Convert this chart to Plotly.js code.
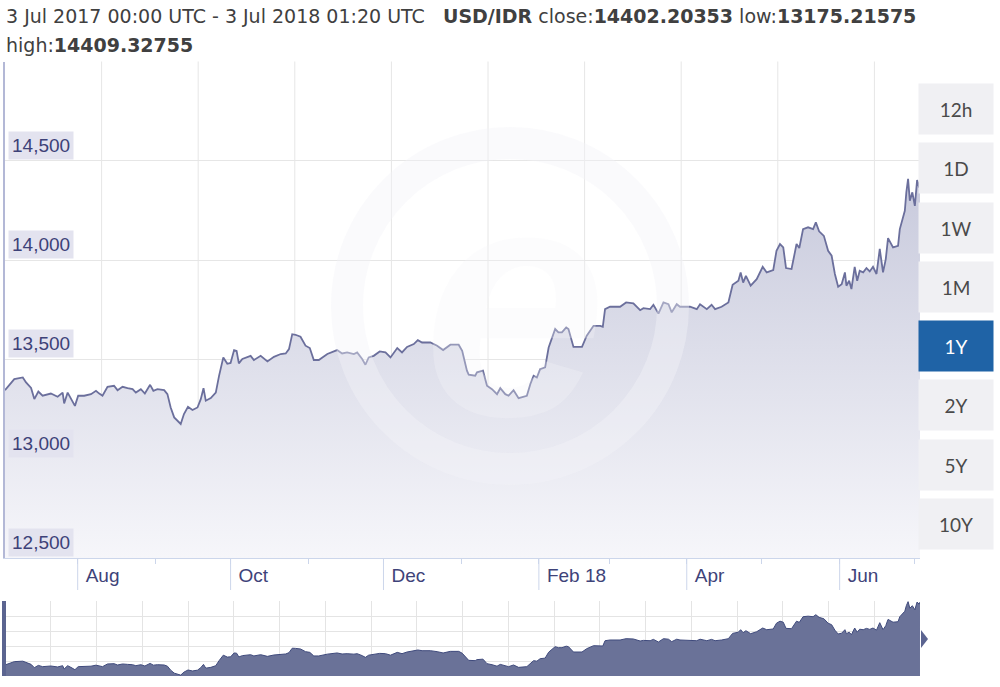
<!DOCTYPE html>
<html><head><meta charset="utf-8">
<script src="https://cdn.plot.ly/plotly-3.0.1.min.js"></script>
<style>html,body{margin:0;padding:0;background:#fff;} #chart{width:1000px;height:687px;}</style>
</head><body><div id="chart"></div>
<script>
// ---------- data ----------
const startDate = '2017-07-03 00:00';
const endDate = '2018-07-03 01:20';
const dayOffsets = [0, 3.7, 7.1, 8.4, 10.4, 11.7, 13.3, 15.0, 18.3, 21.0, 23.0, 23.6, 25.0, 26.3, 27.9, 29.2, 31.6, 34.3, 36.3, 37.6,
  38.9, 40.9, 43.5, 44.9, 46.9, 48.9, 50.9, 52.2, 54.2, 55.8, 57.9, 59.2, 60.8, 63.5, 64.8, 66.1, 67.5, 70.1, 71.4, 73.0,
  74.8, 76.8, 78.1, 79.2, 80.1, 82.1, 84.1, 85.4, 87.1, 88.7, 90.0, 91.4, 92.4, 93.3, 94.7, 98.0, 99.3, 102.0, 104.7, 107.3,
  110.0, 112.0, 113.3, 114.6, 115.9, 117.9, 119.9, 121.6, 123.2, 125.2, 128.6, 132.5, 134.5, 136.5, 139.2, 140.5, 142.5, 143.8, 145.1, 147.1,
  149.5, 151.8, 153.8, 156.5, 158.4, 160.4, 163.1, 164.7, 166.4, 169.7, 172.4, 174.8, 177.7, 181.0, 182.4, 184.3, 185.0, 187.6, 188.3, 190.7,
  192.3, 194.3, 196.3, 197.6, 199.6, 200.9, 202.9, 204.9, 208.2, 209.6, 210.9, 212.2, 213.5, 215.5, 216.9, 219.5, 220.8, 222.2, 223.9, 224.8,
  226.8, 230.2, 232.1, 234.8, 237.5, 238.5, 239.4, 241.4, 245.4, 247.8, 250.7, 253.4, 254.7, 257.4, 258.7, 260.7, 262.7, 264.7, 266.0, 268.0,
  269.3, 273.3, 276.0, 277.3, 280.0, 281.9, 283.3, 285.9, 288.6, 290.3, 292.6, 293.5, 294.5, 295.6, 297.5, 299.9, 302.3, 303.9, 306.5, 307.8,
  309.2, 310.5, 311.6, 313.8, 315.8, 316.9, 318.4, 320.4, 322.4, 323.5, 324.8, 326.7, 328.4, 329.8, 331.1, 332.4, 333.8, 335.1, 335.7, 336.8,
  337.7, 339.0, 340.0, 341.0, 342.4, 343.7, 345.0, 346.3, 347.7, 349.0, 350.3, 351.4, 352.3, 354.3, 356.3, 357.0, 358.1, 359.0, 359.6, 360.3,
  361.0, 362.0, 363.0, 363.9, 364.7, 365.05];
const rates = [13345, 13401, 13409, 13384, 13356, 13300, 13338, 13317, 13328, 13312, 13333, 13278, 13333, 13305, 13266, 13317, 13317, 13325, 13342, 13328,
  13317, 13362, 13367, 13345, 13362, 13355, 13350, 13333, 13350, 13328, 13372, 13342, 13350, 13345, 13325, 13258, 13208, 13175, 13225, 13261,
  13245, 13258, 13300, 13355, 13292, 13305, 13333, 13417, 13510, 13478, 13482, 13547, 13543, 13480, 13502, 13518, 13497, 13518, 13490, 13513,
  13527, 13530, 13552, 13627, 13624, 13614, 13569, 13557, 13497, 13497, 13527, 13547, 13530, 13535, 13527, 13535, 13502, 13473, 13510, 13518,
  13540, 13535, 13510, 13557, 13535, 13563, 13577, 13597, 13585, 13585, 13569, 13547, 13574, 13574, 13543, 13443, 13423, 13418, 13435, 13443,
  13367, 13350, 13325, 13355, 13325, 13317, 13345, 13305, 13317, 13376, 13418, 13409, 13451, 13460, 13560, 13653, 13636, 13636, 13661, 13653,
  13563, 13563, 13619, 13669, 13669, 13664, 13753, 13765, 13765, 13787, 13782, 13748, 13758, 13753, 13775, 13731, 13787, 13778, 13737, 13778,
  13765, 13765, 13753, 13778, 13753, 13775, 13753, 13765, 13787, 13876, 13896, 13938, 13887, 13921, 13871, 13904, 13966, 13938, 13950, 14047,
  14081, 14064, 13960, 13955, 14081, 14061, 14156, 14165, 14156, 14190, 14145, 14122, 14047, 14022, 13930, 13866, 13879, 13938, 13871, 13896,
  13854, 13966, 13896, 13946, 13938, 13960, 13943, 13966, 13930, 14056, 13938, 14005, 14111, 14064, 14072, 14156, 14215, 14248, 14341, 14409,
  14299, 14341, 14273, 14403, 14366, 14402];
const yTickValues = [12500, 13000, 13500, 14000, 14500];
const yTickLabels = ['12,500', '13,000', '13,500', '14,000', '14,500'];
const monthTickValues = ['2017-08-01', '2017-09-01', '2017-10-01', '2017-11-01', '2017-12-01', '2018-01-01',
  '2018-02-01', '2018-03-01', '2018-04-01', '2018-05-01', '2018-06-01', '2018-07-01'];
const monthTickLabels = ['Aug', '', 'Oct', '', 'Dec', '', 'Feb 18', '', 'Apr', '', 'Jun', ''];
const rangeButtons = ['12h', '1D', '1W', '1M', '1Y', '2Y', '5Y', '10Y'];
const activeButton = '1Y';
const headerRange = '3 Jul 2017 00:00 UTC - 3 Jul 2018 01:20 UTC';
const pairName = 'USD/IDR';
const closeValue = '14402.20353';
const lowValue = '13175.21575';
const highValue = '14409.32755';

// ---------- helpers ----------
const W = 1000, H = 687;
const px = x => x / W;
const py = y => 1 - y / H;
const pad = n => String(n).padStart(2, '0');
const baseMs = Date.UTC(2017, 6, 3);
function toDate(d) {
  const t = new Date(baseMs + d * 86400000);
  return t.getUTCFullYear() + '-' + pad(t.getUTCMonth() + 1) + '-' + pad(t.getUTCDate()) + ' ' +
    pad(t.getUTCHours()) + ':' + pad(t.getUTCMinutes());
}
const dates = dayOffsets.map(toDate);
const spanMs = Date.UTC(2018, 6, 3, 1, 20) - baseMs;

const lineColor = '#6b6f9c';
const font = 'Liberation Sans, Arial, sans-serif';
const uiFont = 'DejaVu Sans, sans-serif';
const btnFont = 'Lato, Open Sans, sans-serif';

const main = {
  x: dates, y: rates, type: 'scatter', mode: 'lines',
  line: {color: lineColor, width: 1.8},
  fill: 'tozeroy',
  fillgradient: {type: 'vertical', start: 12500, stop: 14500,
    colorscale: [[0, 'rgb(246,246,250)'], [1, 'rgb(198,200,219)']]},
  hoverinfo: 'skip', xaxis: 'x', yaxis: 'y'
};
const nav = {
  x: dates, y: rates, type: 'scatter', mode: 'lines',
  line: {color: '#3f4a7c', width: 1},
  fill: 'tozeroy', fillcolor: '#6a7298',
  hoverinfo: 'skip', xaxis: 'x2', yaxis: 'y2'
};

const shapes = [];
// main vertical background grid (evenly spaced, independent of month ticks)
for (let i = 1; i <= 9; i++) {
  const xp = 5 + i * 96.6;
  shapes.push({type: 'line', xref: 'paper', yref: 'paper', x0: px(xp), x1: px(xp), y0: py(558), y1: py(61.5),
    line: {color: '#e6e6e6', width: 1}, layer: 'below'});
}
// long separator lines for labelled months
monthTickValues.forEach((v, i) => {
  if (monthTickLabels[i]) shapes.push({type: 'line', xref: 'x', yref: 'paper', x0: v, x1: v, y0: py(558), y1: py(590),
    line: {color: '#ccd6eb', width: 1}});
});
// watermark ring
shapes.push({type: 'circle', xref: 'paper', yref: 'paper', x0: px(510 - 163), x1: px(510 + 163), y0: py(306 + 163), y1: py(306 - 163),
  line: {color: 'rgba(244,244,248,0.42)', width: 32}, layer: 'above'});
// navigator handles
shapes.push({type: 'rect', xref: 'paper', yref: 'paper', x0: px(2), x1: px(6), y0: py(676), y1: py(601),
  fillcolor: '#5b6490', line: {width: 0}});
shapes.push({type: 'path', xref: 'paper', yref: 'paper',
  path: `M ${px(921)} ${py(630)} L ${px(928)} ${py(639)} L ${px(921)} ${py(648)} Z`,
  fillcolor: '#5b6490', line: {width: 0}});

const annotations = [];
// watermark letter
annotations.push({xref: 'paper', yref: 'paper', x: px(515), y: py(300), xanchor: 'center', yanchor: 'middle', showarrow: false,
  text: '<i><b>e</b></i>', font: {family: 'Liberation Sans, Arial, sans-serif', size: 330, color: 'rgba(244,244,248,0.3)'}});
// y tick labels with shaded boxes
yTickValues.forEach((v, i) => annotations.push({
  xref: 'paper', yref: 'y', x: px(8), y: v, xanchor: 'left', yanchor: 'bottom', yshift: 1,
  text: yTickLabels[i], showarrow: false, bgcolor: '#e3e3ef', borderpad: 3,
  font: {family: font, size: 19, color: '#3d4178'}
}));
// header
annotations.push({xref: 'paper', yref: 'paper', x: px(4), y: py(16), xanchor: 'left', yanchor: 'middle', showarrow: false,
  text: `${headerRange}&nbsp;&nbsp;&nbsp;<b>${pairName}</b> close:<b>${closeValue}</b> low:<b>${lowValue}</b>`,
  font: {family: uiFont, size: 19, color: '#404040'}});
annotations.push({xref: 'paper', yref: 'paper', x: px(4), y: py(45), xanchor: 'left', yanchor: 'middle', showarrow: false,
  text: `high:<b>${highValue}</b>`, font: {family: uiFont, size: 19, color: '#404040'}});
// range buttons
rangeButtons.forEach((b, i) => {
  const yc = 109 + i * 59.3;
  const active = b === activeButton;
  annotations.push({xref: 'paper', yref: 'paper', x: px(956), y: py(yc), xanchor: 'center', yanchor: 'middle',
    showarrow: false, text: b, width: 74, height: 50, borderpad: 0,
    bgcolor: active ? '#1f63a6' : '#f0f0f3',
    font: {family: btnFont, size: 19, color: active ? '#ffffff' : '#4a4a4a'}});
});

const layout = {
  width: W, height: H, margin: {l: 0, r: 0, t: 0, b: 0},
  paper_bgcolor: '#fff', plot_bgcolor: '#fff', showlegend: false,
  xaxis: {
    type: 'date', domain: [px(5), px(920)], range: [startDate, endDate], anchor: 'y',
    tickmode: 'array', tickvals: monthTickValues, ticktext: monthTickLabels,
    ticks: 'outside', ticklen: 5, tickcolor: '#ccd6eb', tickwidth: 1,
    ticklabelposition: 'outside right', ticklabelshift: 7, ticklabelstandoff: 0,
    tickfont: {family: font, size: 19, color: '#3e4379'},
    showgrid: false, showline: true, linecolor: '#ccd6eb', linewidth: 1, zeroline: false, fixedrange: true
  },
  yaxis: {
    domain: [py(558), py(61.5)], range: [12500, 15000], anchor: 'x',
    tick0: 12500, dtick: 500, showgrid: true, gridcolor: '#e6e6e6', gridwidth: 1,
    showticklabels: false, ticks: '', showline: true, linecolor: '#b3b8d6', linewidth: 2, zeroline: false, fixedrange: true
  },
  xaxis2: {
    type: 'date', domain: [px(5), px(920)], range: [startDate, endDate], anchor: 'y2',
    tick0: startDate, dtick: spanMs / 20, showticklabels: false, ticks: '',
    showgrid: true, gridcolor: '#e4e4e4', gridwidth: 1, showline: false, zeroline: false
  },
  yaxis2: {
    domain: [py(676), py(601)], range: [13160, 14420], anchor: 'x2',
    tick0: 13160, dtick: (14420 - 13160) / 5, showticklabels: false, ticks: '',
    showgrid: true, gridcolor: '#e4e4e4', gridwidth: 1, showline: false, zeroline: false
  },
  shapes: shapes,
  annotations: annotations
};

Plotly.newPlot('chart', [main, nav], layout, {displayModeBar: false, staticPlot: true});
</script>
</body></html>
